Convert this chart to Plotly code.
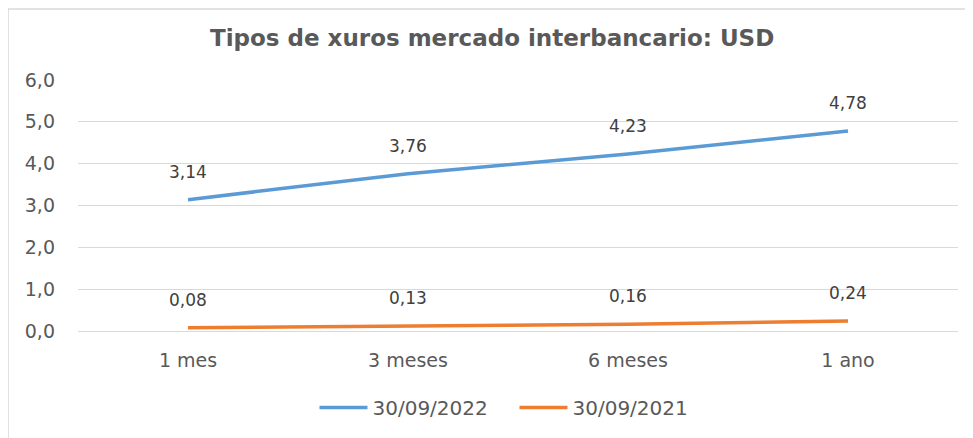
import plotly.graph_objects as go

categories = ["1 mes", "3 meses", "6 meses", "1 ano"]
series_2022 = [3.14, 3.76, 4.23, 4.78]
series_2021 = [0.08, 0.13, 0.16, 0.24]
names = ["30/09/2022", "30/09/2021"]
colors = ["#5b9bd5", "#ed7d31"]
y_ticks = [0, 1, 2, 3, 4, 5, 6]

FONT = "DejaVu Sans"

fig = go.Figure()
for name, vals, col in zip(names, [series_2022, series_2021], colors):
    fig.add_trace(go.Scatter(
        x=categories, y=vals, name=name, mode="lines",
        line=dict(color=col, width=3.5),
    ))

annotations = []
for vals in [series_2022, series_2021]:
    for c, v in zip(categories, vals):
        annotations.append(dict(
            x=c, y=v, xref="x", yref="y",
            text=f"{v:.2f}".replace(".", ","),
            showarrow=False, yshift=28,
            font=dict(family=FONT, size=17, color="#404040"),
        ))

annotations.append(dict(
    text="<b>Tipos de xuros mercado interbancario: USD</b>",
    xref="paper", yref="paper", x=0.47, y=1.0, yshift=42,
    xanchor="center", yanchor="middle", showarrow=False,
    font=dict(family=FONT, size=23, color="#595959"),
))

fig.update_layout(
    width=973, height=438,
    margin=dict(l=70, r=23, t=72, b=115, autoexpand=False),
    paper_bgcolor="white", plot_bgcolor="white",
    separators=",.",
    showlegend=True,
    legend=dict(orientation="h", x=0.496, xanchor="center", y=-0.305, yanchor="middle",
                font=dict(family=FONT, size=20, color="#595959"),
                itemwidth=48, tracegroupgap=0, entrywidth=137),
    annotations=annotations,
    xaxis=dict(type="category", range=[-0.5, 3.5], showgrid=False, showline=False,
               automargin=False, ticks="", ticklabelstandoff=16,
               tickfont=dict(family=FONT, size=19, color="#595959")),
    yaxis=dict(range=[0, 6], tickvals=y_ticks, tickformat=".1f",
               showgrid=True, gridcolor="#d9d9d9", gridwidth=1,
               zeroline=True, zerolinecolor="#d9d9d9", zerolinewidth=1,
               showline=False, ticks="", ticklabelstandoff=22, automargin=False,
               tickfont=dict(family=FONT, size=19, color="#595959")),
    shapes=[
        dict(type="line", xref="paper", yref="paper", x0=-0.0795, x1=1.03, y0=1.283, y1=1.283,
             line=dict(color="#d9d9d9", width=1.5)),
        dict(type="line", xref="paper", yref="paper", x0=-0.0795, x1=-0.0795, y0=-0.5, y1=1.283,
             line=dict(color="#d9d9d9", width=1.5)),
    ],
)

fig.write_html("out.html")
